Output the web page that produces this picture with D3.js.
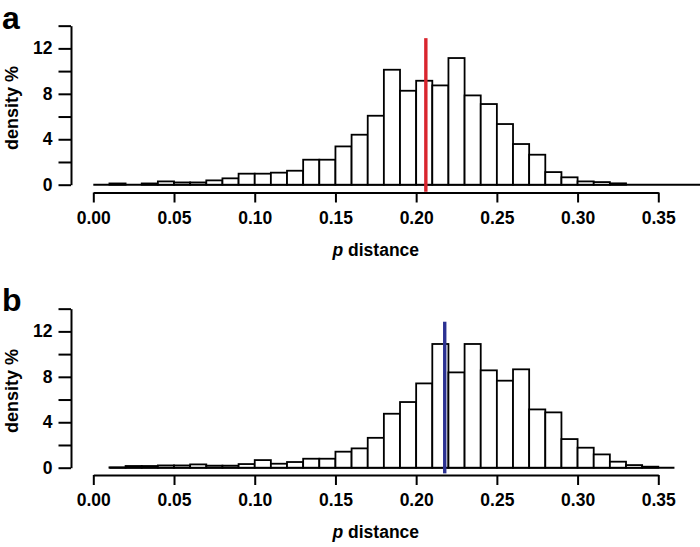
<!DOCTYPE html>
<html>
<head>
<meta charset="utf-8">
<script src="https://cdn.jsdelivr.net/npm/d3@7"></script>
<style>
  html, body { margin: 0; padding: 0; background: #fff; }
  svg { display: block; font-family: "Liberation Sans", Arial, Helvetica, sans-serif; }
</style>
</head>
<body>
<svg id="chart" width="700" height="547"></svg>
<script>
// ---- Data ----
const binWidth = 0.01;
// Panel a: bins start at 0.00
const binStartA = 0.00;
const densityA = [0, 0.11, 0, 0.11, 0.29, 0.2, 0.2, 0.38, 0.56, 0.97, 0.97, 1.06, 1.23, 2.2, 2.2,
  3.37, 4.4, 6.07, 10.12, 8.27, 9.15, 8.74, 11.15, 7.86, 7.1, 5.34, 3.58, 2.64, 1.11, 0.65, 0.29, 0.23, 0.12];
// Panel b: bins start at 0.01
const binStartB = 0.01;
const densityB = [0.03, 0.15, 0.15, 0.2, 0.2, 0.29, 0.18, 0.18, 0.32, 0.67, 0.35, 0.5, 0.79, 0.79,
  1.41, 1.7, 2.63, 4.75, 5.78, 7.42, 10.89, 8.39, 10.89, 8.57, 7.66, 8.66, 5.13, 4.87, 2.52, 1.76, 1.17, 0.53, 0.23, 0.09];
const markA = 0.206;   // red line
const markB = 0.2177;  // blue line
const baselineA = [0.00, 0.38];
const baselineB = [0.01, 0.36];
const xTicks = [0.00, 0.05, 0.10, 0.15, 0.20, 0.25, 0.30, 0.35];
const yTicks = [0, 2, 4, 6, 8, 10, 12, 14];
const yLabelTicks = [0, 4, 8, 12];
const panelLabels = ["a", "b"];
const xTitle = "distance";
const yTitle = "density %";

// ---- Layout ----
const svg = d3.select("#chart");
const FONT = 17.5;

const panels = [
  { label: panelLabels[0], start: binStartA, dens: densityA, mark: markA, color: "#d9252e",
    base: baselineA, y0: 184.7, xAxisY: 192.5, labelY: 108, markTop: 12.9, markBot: -0.62, labY: 29 },
  { label: panelLabels[1], start: binStartB, dens: densityB, mark: markB, color: "#2b3192",
    base: baselineB, y0: 467.7, xAxisY: 475, labelY: 391, markTop: 12.85, markBot: -0.5, labY: 311 }
];

const x = d3.scaleLinear().domain([0, 0.35]).range([93.3, 658.3]);

panels.forEach((p, pi) => {
  const y = d3.scaleLinear().domain([0, 14]).range([p.y0, p.y0 - 14 * 11.36]);
  const g = svg.append("g");

  const bins = p.dens.map((d, i) => ({ x0: p.start + i * binWidth, x1: p.start + (i + 1) * binWidth, v: d }));

  // baseline
  g.append("line")
    .attr("x1", x(p.base[0])).attr("x2", Math.min(700, x(p.base[1])))
    .attr("y1", y(0)).attr("y2", y(0))
    .attr("stroke", "#000").attr("stroke-width", 2);

  // bars
  g.selectAll("rect.bar").data(bins).enter().append("rect")
    .attr("class", "bar")
    .attr("x", d => x(d.x0))
    .attr("width", d => x(d.x1) - x(d.x0))
    .attr("y", d => y(d.v))
    .attr("height", d => y(0) - y(d.v))
    .attr("fill", "#fff").attr("stroke", "#000").attr("stroke-width", 1.8);

  // mark line
  g.append("line")
    .attr("x1", x(p.mark)).attr("x2", x(p.mark))
    .attr("y1", y(p.markTop)).attr("y2", y(p.markBot))
    .attr("stroke", p.color).attr("stroke-width", 3.4);

  // x axis
  const xa = g.append("g").attr("transform", `translate(0,${p.xAxisY})`)
    .call(d3.axisBottom(x).tickValues(xTicks).tickFormat(d3.format(".2f")).tickSize(10).tickSizeOuter(0).tickPadding(9));
  xa.select(".domain").attr("stroke-width", 2);
  xa.selectAll(".tick line").attr("stroke-width", 2);
  xa.selectAll(".tick text").attr("font-size", FONT).attr("font-weight", "bold").attr("fill", "#000")
    .attr("font-family", "'Liberation Sans', Arial, sans-serif");

  // y axis
  const ya = g.append("g").attr("transform", `translate(71,0)`)
    .call(d3.axisLeft(y).tickValues(yTicks)
      .tickFormat(d => yLabelTicks.includes(d) ? d3.format("d")(d) : "")
      .tickSize(12.5).tickSizeOuter(0).tickPadding(6));
  ya.select(".domain").attr("stroke-width", 2);
  ya.selectAll(".tick line").attr("stroke-width", 2);
  ya.selectAll(".tick text").attr("font-size", FONT).attr("font-weight", "bold").attr("fill", "#000")
    .attr("font-family", "'Liberation Sans', Arial, sans-serif");

  // x title
  const xt = g.append("text")
    .attr("x", (x(0) + x(0.35)) / 2).attr("y", p.xAxisY + 63)
    .attr("text-anchor", "middle").attr("font-size", FONT).attr("font-weight", "bold");
  xt.append("tspan").attr("font-style", "italic").text("p");
  xt.append("tspan").text(" " + xTitle);

  // y title
  g.append("text")
    .attr("transform", `translate(18,${p.labelY}) rotate(-90)`)
    .attr("text-anchor", "middle").attr("font-size", FONT + 0.5).attr("font-weight", "bold")
    .text(yTitle);

  // panel label
  g.append("text")
    .attr("x", 2).attr("y", p.labY)
    .attr("font-size", 32).attr("font-weight", "bold")
    .text(p.label);
});
</script>
</body>
</html>
